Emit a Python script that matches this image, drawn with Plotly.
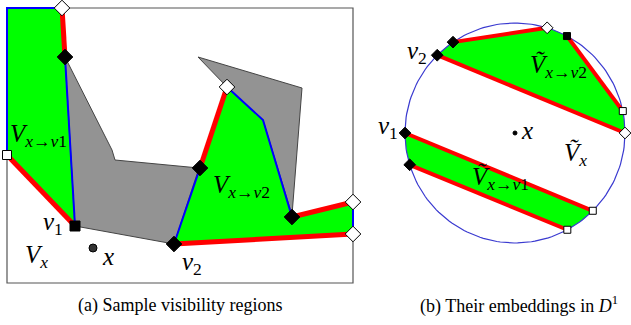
import numpy as np
import plotly.graph_objects as go

# ---------- Panel (a): visibility regions (pixel coords, y down) ----------
frame_x = [7, 353, 353, 7, 7]
frame_y = [8, 8, 283, 283, 8]

region_v1_x = [7, 62, 65, 75, 7]
region_v1_y = [8, 8, 57, 226, 155]

obstacle1_x = [65, 112, 115, 199, 174, 75]
obstacle1_y = [57, 150, 160, 168, 244, 226]

obstacle2_x = [198, 302, 292, 263, 227]
obstacle2_y = [57, 88, 215, 120, 87]

region_v2_x = [227, 200, 174, 353, 353, 292, 263]
region_v2_y = [87, 168, 244, 234, 202, 217, 120]

red_a = [([62, 65], [8, 57]), ([75, 7], [226, 155]), ([227, 200], [87, 168]),
         ([174, 353], [244, 234]), ([353, 292], [202, 217])]
blue_a = [([7, 7, 62], [155, 8, 8]), ([65, 75], [57, 226]), ([200, 174], [168, 244]),
          ([292, 263, 227], [217, 120, 87]), ([353, 353], [234, 202])]

black_diamond_a_x = [65, 200, 174, 292]
black_diamond_a_y = [57, 168, 244, 217]
black_square_a_x = [75]
black_square_a_y = [226]
white_diamond_a_x = [62, 227, 353, 353]
white_diamond_a_y = [8, 87, 202, 234]
white_square_a_x = [7]
white_square_a_y = [155]
point_x_a = (93, 248)

# ---------- Panel (b): embedding in the disk ----------
disk_cx, disk_cy, disk_r = 515, 133, 110
# angles (degrees) of boundary points
up_arcs = [(135, 124.3), (73, 61.8), (11.5, 0)]     # arcs of upper region
up_chords = [(124.3, 73), (61.8, 11.5), (0, 135)]   # red chords
low_chords = [(180, 315), (298.4, 196.8)]
low_arcs = [(315, 298.4), (196.8, 180)]
black_diamond_b = [135, 124.3, 180, 196.8]
black_square_b = [61.8]
white_diamond_b = [73, 0]
white_square_b = [11.5, 315, 298.4]


def P(a):
    t = np.radians(a)
    return disk_cx + disk_r * np.cos(t), disk_cy - disk_r * np.sin(t)


def arc(a0, a1, n=40):
    ts = np.radians(np.linspace(a0, a1, n))
    return list(disk_cx + disk_r * np.cos(ts)), list(disk_cy - disk_r * np.sin(ts))


GREEN = "#00ff00"
GRAY = "#939393"
RED = "#ff0000"
BLUE = "#0000ff"

fig = go.Figure()


def poly(xs, ys, fill, line_color="rgba(0,0,0,0)", lw=0):
    fig.add_trace(go.Scatter(x=list(xs) + [xs[0]], y=list(ys) + [ys[0]], mode="lines",
                             fill="toself", fillcolor=fill,
                             line=dict(color=line_color, width=lw), hoverinfo="skip"))


def line(xs, ys, color, w):
    fig.add_trace(go.Scatter(x=xs, y=ys, mode="lines", line=dict(color=color, width=w),
                             hoverinfo="skip"))


def marks(xs, ys, sym, fill, size):
    fig.add_trace(go.Scatter(x=xs, y=ys, mode="markers",
                             marker=dict(symbol=sym, color=fill, size=size,
                                         line=dict(color="black", width=1)),
                             hoverinfo="skip"))


# panel (a)
poly(region_v1_x, region_v1_y, GREEN)
poly(region_v2_x, region_v2_y, GREEN)
poly(obstacle1_x, obstacle1_y, GRAY, "#444444", 1)
poly(obstacle2_x, obstacle2_y, GRAY, "#444444", 1)
line(frame_x, frame_y, "#555555", 1.2)
for xs, ys in red_a:
    line(xs, ys, RED, 5)
for xs, ys in blue_a:
    line(xs, ys, BLUE, 2)
marks(black_diamond_a_x, black_diamond_a_y, "diamond", "black", 12)
marks(black_square_a_x, black_square_a_y, "square", "black", 10)
marks(white_diamond_a_x, white_diamond_a_y, "diamond", "white", 12)
marks(white_square_a_x, white_square_a_y, "square", "white", 9)
marks([point_x_a[0]], [point_x_a[1]], "circle", "#333333", 8)

# panel (b)
ux, uy = [], []
for (a0, a1) in up_arcs:
    xs, ys = arc(a0, a1)
    ux += xs; uy += ys
poly(ux, uy, GREEN)
lx, ly = [], []
xs, ys = arc(*low_arcs[0]); lx += xs; ly += ys
xs, ys = arc(*low_arcs[1]); lx += xs; ly += ys
poly(lx, ly, GREEN)
cxs, cys = arc(0, 360, 200)
line(cxs, cys, "#3a3ad0", 1.2)
for (a0, a1) in up_chords + low_chords:
    p0, p1 = P(a0), P(a1)
    line([p0[0], p1[0]], [p0[1], p1[1]], RED, 4)
for angs, sym, fc, sz in [(black_diamond_b, "diamond", "black", 9),
                          (black_square_b, "square", "black", 7),
                          (white_diamond_b, "diamond", "white", 9),
                          (white_square_b, "square", "white", 7)]:
    pts = [P(a) for a in angs]
    marks([p[0] for p in pts], [p[1] for p in pts], sym, fc, sz)
marks([disk_cx], [disk_cy], "circle", "black", 4)

# ---------- labels ----------
SERIF = "Liberation Serif, Times New Roman, serif"
label_text = ["<i>V</i><sub><i>x</i>→<i>v</i>1</sub>", "<i>v</i><sub>1</sub>", "<i>V</i><sub><i>x</i></sub>",
              "<i>x</i>", "<i>v</i><sub>2</sub>", "<i>V</i><sub><i>x</i>→<i>v</i>2</sub>",
              "<i>v</i><sub>2</sub>", "<i>v</i><sub>1</sub>", "<i>x</i>",
              "<i>Ṽ</i><sub><i>x</i>→<i>v</i>2</sub>", "<i>Ṽ</i><sub><i>x</i></sub>",
              "<i>Ṽ</i><sub><i>x</i>→<i>v</i>1</sub>"]
label_x = [38, 53, 36, 108, 192, 241, 417, 388, 527, 558, 575, 500]
label_y = [135, 223, 256, 256, 263, 186, 52, 127, 130, 66, 154, 178]
for t, x, y in zip(label_text, label_x, label_y):
    fig.add_annotation(x=x, y=y, text=t, showarrow=False, xanchor="center", yanchor="middle",
                       font=dict(family=SERIF, size=25, color="black"))

captions = ["(a) Sample visibility regions", "(b) Their embeddings in <i>D</i><sup>1</sup>"]
caption_x = [180, 519]
for t, x in zip(captions, caption_x):
    fig.add_annotation(x=x, y=305, text=t, showarrow=False, xanchor="center", yanchor="middle",
                       font=dict(family=SERIF, size=18, color="black"))

fig.update_layout(width=631, height=325, margin=dict(l=0, r=0, t=0, b=0),
                  paper_bgcolor="white", plot_bgcolor="white", showlegend=False)
fig.update_xaxes(range=[0, 631], visible=False, fixedrange=True)
fig.update_yaxes(range=[325, 0], visible=False, fixedrange=True)
fig.write_html("out.html", config={"displayModeBar": False},
               post_script="document.body.style.margin='0';document.body.style.overflow='hidden';")
